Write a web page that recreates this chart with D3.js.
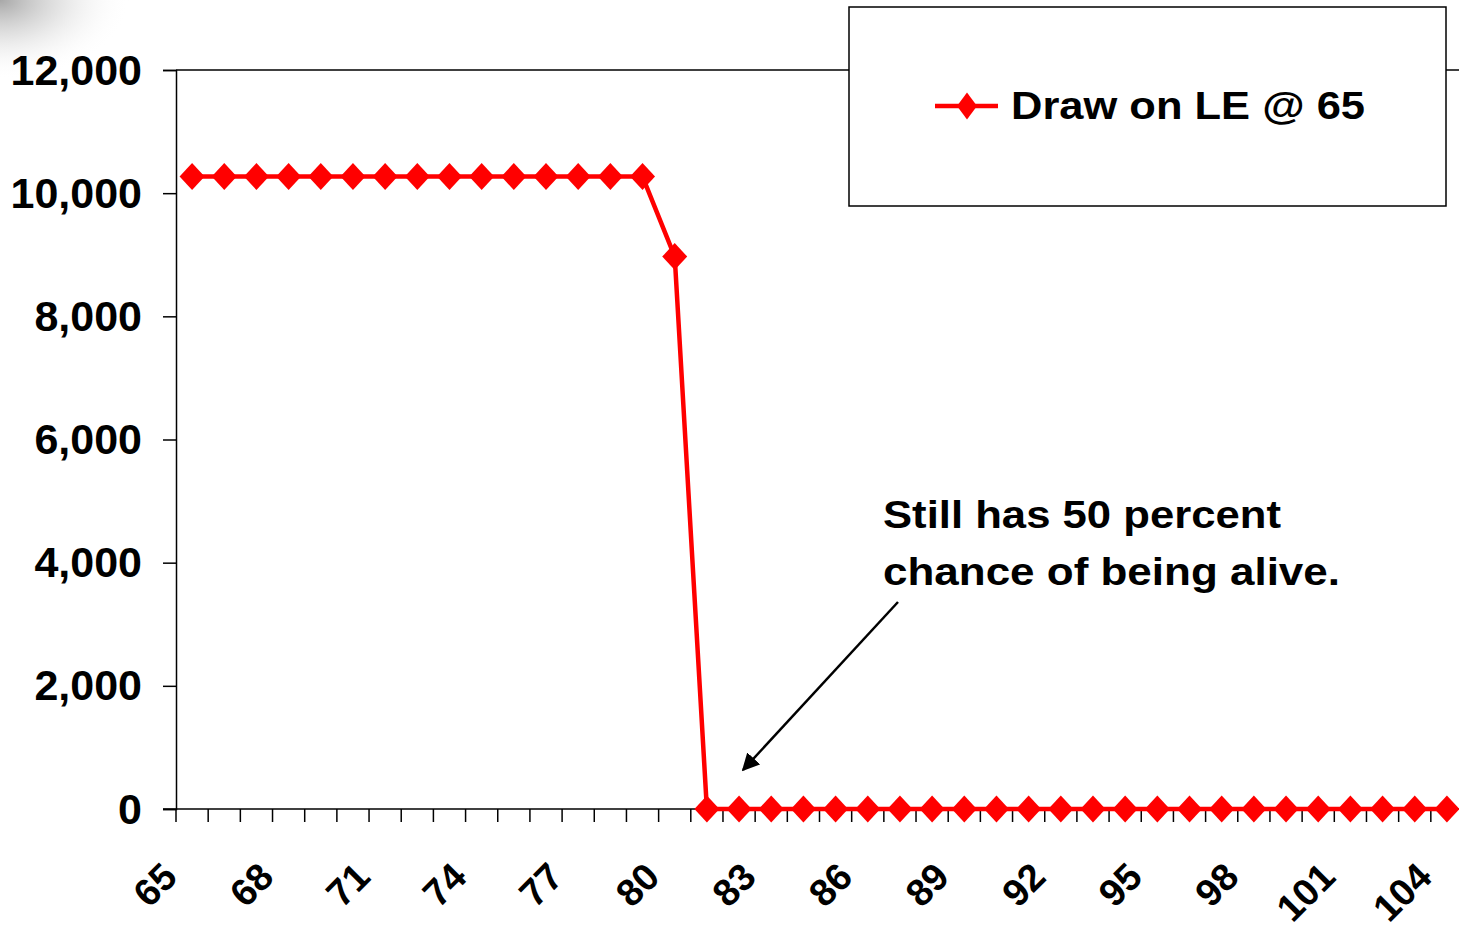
<!DOCTYPE html>
<html>
<head>
<meta charset="utf-8">
<script src="https://cdn.jsdelivr.net/npm/d3@7/dist/d3.min.js"></script>
<style>
  html, body { margin: 0; padding: 0; background: #fff; }
  svg { display: block; }
  text { font-family: "Liberation Sans", Arial, sans-serif; font-weight: bold; fill: #000; }
</style>
</head>
<body>
<svg id="chart" width="1459" height="928"></svg>
<script>
// Age at which the annual draw is taken (65 .. 104)
const ages = d3.range(65, 105);
// Annual draw when spending down on life expectancy at 65
const drawValues = [
  10270, 10270, 10270, 10270, 10270, 10270, 10270, 10270, 10270, 10270,
  10270, 10270, 10270, 10270, 10270, 8970, 0, 0, 0, 0,
  0, 0, 0, 0, 0, 0, 0, 0, 0, 0,
  0, 0, 0, 0, 0, 0, 0, 0, 0, 0
];
const yTicks = [0, 2000, 4000, 6000, 8000, 10000, 12000];
const xTickLabels = [65, 68, 71, 74, 77, 80, 83, 86, 89, 92, 95, 98, 101, 104];
const seriesName = "Draw on LE @ 65";
const noteLines = ["Still has 50 percent", "chance of being alive."];

const svg = d3.select("#chart");
const plotLeft = 176, plotTop = 70, plotBottom = 809, plotRight = 1463;

// soft grey shade in the top-left corner
const defs = svg.append("defs");
const rg = defs.append("radialGradient").attr("id", "cornerShade")
  .attr("cx", 0).attr("cy", 0).attr("r", 1)
  .attr("gradientUnits", "objectBoundingBox");
rg.append("stop").attr("offset", "0%").attr("stop-color", "#8a8a8a").attr("stop-opacity", 0.75);
rg.append("stop").attr("offset", "45%").attr("stop-color", "#b8b8b8").attr("stop-opacity", 0.4);
rg.append("stop").attr("offset", "100%").attr("stop-color", "#ffffff").attr("stop-opacity", 0);
svg.append("rect").attr("x", 0).attr("y", 0).attr("width", 130).attr("height", 80)
  .attr("fill", "url(#cornerShade)");

const x = d3.scaleBand().domain(ages).range([plotLeft, plotRight]).padding(0);
const y = d3.scaleLinear().domain([0, 12000]).range([plotBottom, plotTop]);
const cx = a => x(a) + x.bandwidth() / 2;

// plot frame: top edge
svg.append("line").attr("x1", plotLeft).attr("x2", plotRight).attr("y1", plotTop).attr("y2", plotTop)
  .attr("stroke", "#000").attr("stroke-width", 1.5);

// Y axis
const yAxis = d3.axisLeft(y).tickValues(yTicks).tickSize(13).tickPadding(0)
  .tickFormat(d3.format(","));
const yg = svg.append("g").attr("transform", `translate(${plotLeft},0)`).call(yAxis);
yg.select(".domain").attr("stroke", "#000").attr("stroke-width", 1.5);
yg.selectAll(".tick line").attr("stroke", "#000").attr("stroke-width", 1.5);
yg.selectAll(".tick text")
  .attr("x", -34).attr("dy", null).attr("y", 14)
  .style("font-size", "43px").style("font-family", "'Liberation Sans', Arial, sans-serif")
  .style("font-weight", "bold").attr("fill", "#000");

// X axis: baseline with tick marks at category boundaries
const xg = svg.append("g");
xg.append("line").attr("x1", plotLeft - 13).attr("x2", plotRight).attr("y1", plotBottom).attr("y2", plotBottom)
  .attr("stroke", "#000").attr("stroke-width", 1.5);
xg.selectAll("line.tk").data(ages).join("line").attr("class", "tk")
  .attr("x1", d => x(d)).attr("x2", d => x(d))
  .attr("y1", plotBottom).attr("y2", plotBottom + 13)
  .attr("stroke", "#000").attr("stroke-width", 1.5);
xg.selectAll("text").data(xTickLabels).join("text")
  .attr("transform", d => `translate(${cx(d) - 13},${plotBottom + 70}) rotate(-45)`)
  .attr("text-anchor", "end")
  .style("font-size", "38px")
  .text(d => d);

// diamond marker
const diamond = (w, h) => ({
  draw(ctx) {
    ctx.moveTo(0, -h); ctx.lineTo(w, 0); ctx.lineTo(0, h); ctx.lineTo(-w, 0); ctx.closePath();
  }
});

const data = ages.map((a, i) => ({ age: a, v: drawValues[i] }));
const line = d3.line().x(d => cx(d.age)).y(d => y(d.v));
svg.append("path").datum(data).attr("d", line)
  .attr("fill", "none").attr("stroke", "#ff0000").attr("stroke-width", 4.5)
  .attr("stroke-linejoin", "round");
svg.selectAll("path.pt").data(data).join("path").attr("class", "pt")
  .attr("transform", d => `translate(${cx(d.age)},${y(d.v)})`)
  .attr("d", d3.symbol().type(diamond(12.5, 13.5))())
  .attr("fill", "#ff0000");

// legend
const lg = svg.append("g");
lg.append("rect").attr("x", 849).attr("y", 7).attr("width", 597).attr("height", 199)
  .attr("fill", "#fff").attr("stroke", "#000").attr("stroke-width", 1.5);
lg.append("line").attr("x1", 935).attr("x2", 998).attr("y1", 106).attr("y2", 106)
  .attr("stroke", "#ff0000").attr("stroke-width", 4.5);
lg.append("path").attr("transform", "translate(967,106)")
  .attr("d", d3.symbol().type(diamond(10, 13.5))()).attr("fill", "#ff0000");
lg.append("text").attr("x", 1011).attr("y", 119)
  .style("font-size", "38px")
  .attr("textLength", 354).attr("lengthAdjust", "spacingAndGlyphs")
  .text(seriesName);

// annotation with arrow
defs.append("marker").attr("id", "arrowHead")
  .attr("viewBox", "0 0 10 10").attr("refX", 9).attr("refY", 5)
  .attr("markerWidth", 7).attr("markerHeight", 7).attr("markerUnits", "strokeWidth")
  .attr("orient", "auto")
  .append("path").attr("d", "M0,0 L10,5 L0,10 Z").attr("fill", "#000");
svg.append("line").attr("x1", 898).attr("y1", 602).attr("x2", 743).attr("y2", 770)
  .attr("stroke", "#000").attr("stroke-width", 2.5).attr("marker-end", "url(#arrowHead)");
const noteWidths = [398, 457];
svg.selectAll("text.note").data(noteLines).join("text").attr("class", "note")
  .attr("x", 883).attr("y", (d, i) => 528 + i * 57)
  .style("font-size", "39px")
  .attr("textLength", (d, i) => noteWidths[i]).attr("lengthAdjust", "spacingAndGlyphs")
  .text(d => d);
</script>
</body>
</html>
